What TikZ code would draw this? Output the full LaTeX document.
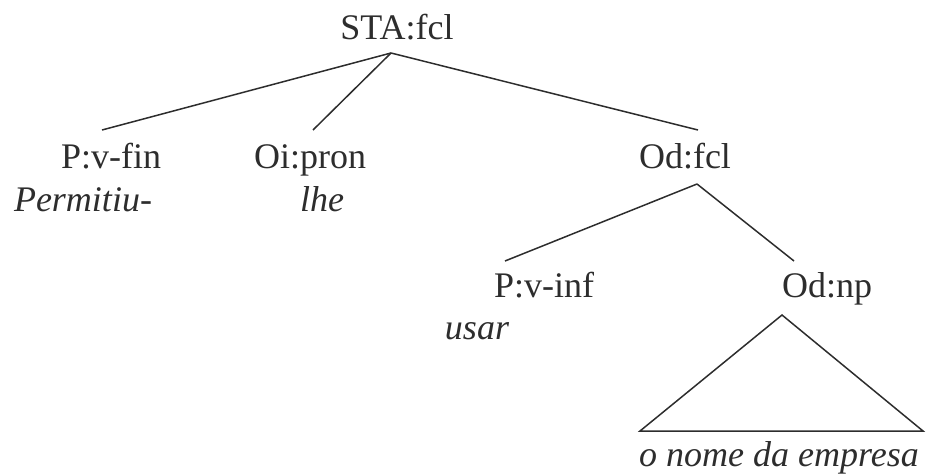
\documentclass[tikz,border=0pt]{standalone}
\usepackage{fontspec}
\setmainfont{Liberation Serif}
\definecolor{ink}{RGB}{45,45,45}
\begin{document}
\begin{tikzpicture}[
  x=1pt, y=-1pt,
  cat/.style={anchor=base, inner sep=0pt, text=ink, font=\fontsize{36}{40}\selectfont},
  word/.style={cat, font=\fontsize{36}{40}\selectfont\itshape},
  branch/.style={draw=ink, line width=1.5pt}
]
  \useasboundingbox (0,0) rectangle (931,474);

  % Categorías (línea base en y)
  \node[cat] (sta) at (397,39) {STA:fcl};
  \node[cat] (pfin) at (111,168) {P:v-fin};
  \node[cat] (oi) at (310,168) {Oi:pron};
  \node[cat] (odfcl) at (685,168) {Od:fcl};
  \node[cat] (pinf) at (544,297) {P:v-inf};
  \node[cat] (odnp) at (827,297) {Od:np};

  % Palabras en cursiva
  \node[word] (permitiu) at (83,211) {Permitiu-};
  \node[word] (lhe) at (322,211) {lhe};
  \node[word] (usar) at (477,339) {usar};
  \node[word] (nome) at (779,466) {o nome da empresa};

  % Puntos de enganche de las ramas
  \coordinate (sta-b) at (391,53);
  \coordinate (pfin-t) at (102,130);
  \coordinate (oi-t) at (313,130);
  \coordinate (odfcl-t) at (698,130);
  \coordinate (odfcl-b) at (697,184);
  \coordinate (pinf-t) at (505,261);
  \coordinate (odnp-t) at (794,261);
  \coordinate (odnp-b) at (782,315);
  \coordinate (tri-l) at (640,431);
  \coordinate (tri-r) at (923,431);

  % Ramas
  \draw[branch] (sta-b) -- (pfin-t);
  \draw[branch] (sta-b) -- (oi-t);
  \draw[branch] (sta-b) -- (odfcl-t);
  \draw[branch] (odfcl-b) -- (pinf-t);
  \draw[branch] (odfcl-b) -- (odnp-t);

  % Triángulo del sintagma
  \draw[branch] (odnp-b) -- (tri-l) -- (tri-r) -- cycle;
\end{tikzpicture}
\end{document}
